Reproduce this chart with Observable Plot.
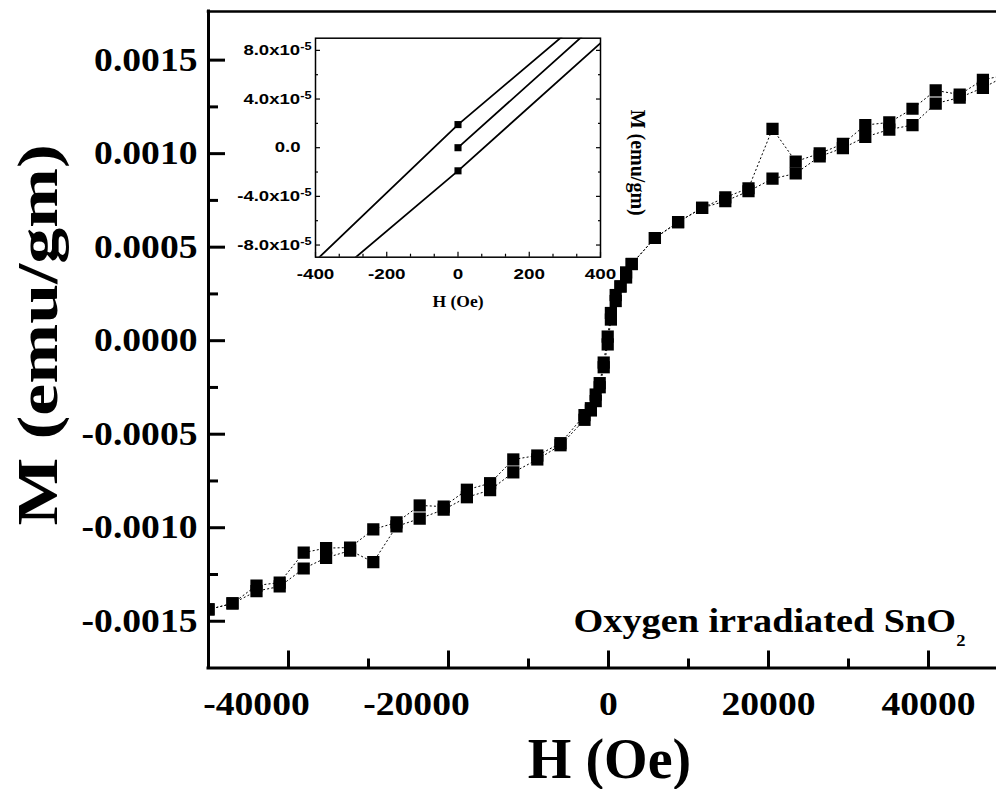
<!DOCTYPE html>
<html><head><meta charset="utf-8">
<script src="https://cdn.jsdelivr.net/npm/d3@7"></script>
<script src="https://cdn.jsdelivr.net/npm/@observablehq/plot@0.6"></script>
<style>
body{margin:0;background:#fff;}
#wrap{position:relative;width:996px;height:789px;overflow:hidden;background:#fff;}
#inset{position:absolute;left:230px;top:28px;}
</style></head><body><div id="wrap"><div id="main"></div><div id="inset"></div></div>
<script>
// ---- main loop data (H in Oe, M in emu/gm) ----
const fieldOe = [-50000, -47000, -44000, -41100, -38100, -35300, -32300, -29400, -26500, -23600, -20600, -17700, -14800, -11900, -8900, -6000, -3000, -2200, -1600, -1100, -600, -100, 300, 900, 1500, 2200, 2900, 5800, 8700, 11700, 14600, 17500, 20500, 23400, 26400, 29300, 32100, 35100, 38000, 40900, 43900, 46800, 50000];
const mDescending = [-0.001437, -0.001405, -0.001309, -0.001293, -0.001133, -0.001109, -0.001106, -0.001009, -0.000972, -0.000881, -0.000887, -0.000797, -0.000762, -0.000635, -0.000614, -0.000548, -0.000398, -0.000361, -0.000288, -0.000227, -0.000117, 0.000022, 0.000148, 0.000244, 0.00029, 0.000365, 0.00041, 0.000549, 0.000634, 0.00071, 0.000766, 0.000815, 0.001133, 0.000958, 0.001001, 0.001052, 0.001153, 0.001167, 0.00124, 0.001338, 0.001316, 0.001395, 0.001423];
const mAscending = [-0.001437, -0.001405, -0.001339, -0.001314, -0.001218, -0.001161, -0.001122, -0.001184, -0.000993, -0.000951, -0.000903, -0.000837, -0.000799, -0.000704, -0.000635, -0.000559, -0.000423, -0.000373, -0.000323, -0.000249, -0.000142, -0.00002, 0.000113, 0.000212, 0.00029, 0.000338, 0.00041, 0.000549, 0.000634, 0.00071, 0.000746, 0.000799, 0.000866, 0.000894, 0.000985, 0.00103, 0.001089, 0.001129, 0.001153, 0.001268, 0.0013, 0.001352, 0.001423];

const xDomain = [-50000, 48500];
const yDomain = [-0.00175, 0.00176];
const xMajorNegTicks = [-40000, -20000];
const xMajorPosTicks = [0, 20000, 40000];
const xMinorTicks = [-30000, -10000, 10000, 30000];
const yMajorTicks = [-0.0015, -0.001, -0.0005, 0, 0.0005, 0.001, 0.0015];
const yMinorTicks = [-0.00125, -0.00075, -0.00025, 0.00025, 0.00075, 0.00125];

// ---- inset data (low-field zoom) ----
const insetDescH = [-400, 0, 400];
const insetDescM = [-9.3e-5, 1.9e-5, 11.8e-5];
const insetVirginH = [0, 400];
const insetVirginM = [0, 10.5e-5];
const insetAscH = [-400, 0, 400];
const insetAscM = [-11.8e-5, -1.9e-5, 8.6e-5];
const insetXDomain = [-400, 400];
const insetYDomain = [-9e-5, 9e-5];
const insetXMajor = [-400, -200, 0, 200, 400];
const insetXMinor = [-333.33, -266.67, -133.33, -66.67, 66.67, 133.33, 266.67, 333.33];
const insetYMajor = [-8e-5, -4e-5, 0, 4e-5, 8e-5];
const insetYMinor = [-6e-5, -2e-5, 2e-5, 6e-5];

const rows = [];
fieldOe.forEach((h, i) => rows.push({H: h, M: mDescending[i], branch: "desc"}));
fieldOe.forEach((h, i) => rows.push({H: h, M: mAscending[i], branch: "asc"}));

const serif = "'Liberation Serif','Times New Roman',serif";
const sans = "'Liberation Sans',Arial,sans-serif";

// stretch a text element along its own writing direction, about its anchor
function stretch(el, s) {
  const tr = el.getAttribute("transform") || "";
  const xa = el.getAttribute("x");
  if (xa !== null && xa !== "" && !isNaN(+xa)) el.setAttribute("x", +xa / s);
  el.setAttribute("transform", `${tr} scale(${s},1)`);
}
const byText = (svg, s) => d3.select(svg).selectAll("text").filter(function() { return this.textContent === s; });

const main = Plot.plot({
  width: 996, height: 789,
  marginLeft: 208, marginRight: 0, marginTop: 11, marginBottom: 121.5,
  style: {background: "white", fontFamily: serif, fontSize: "33px", fontWeight: "bold", color: "black", overflow: "visible"},
  x: {domain: xDomain, label: null},
  y: {domain: yDomain, label: null},
  marks: [
    Plot.line(rows, {x: "H", y: "M", z: "branch", stroke: "black", strokeWidth: 1, strokeDasharray: "1.2,3", clip: true}),
    Plot.dot(rows, {x: "H", y: "M", symbol: "square", r: 6.9, fill: "black", stroke: null, clip: true}),
    Plot.ruleX([xDomain[0]], {strokeWidth: 3, strokeLinecap: "square"}),
    Plot.ruleY([yDomain[0]], {strokeWidth: 3, strokeLinecap: "square"}),
    Plot.ruleY([yDomain[1]], {strokeWidth: 2.5, strokeLinecap: "square"}),
    // major ticks (no labels)
    Plot.axisX(xMajorNegTicks.concat(xMajorPosTicks), {label: null, tickSize: -17, strokeWidth: 3, tickFormat: () => ""}),
    // labels: negative ones sit left of their ticks in the reference
    Plot.axisX(xMajorNegTicks, {label: null, tickSize: 0, tickPadding: 24, dx: -32, tickFormat: d => String(d)}),
    Plot.axisX(xMajorPosTicks, {label: null, tickSize: 0, tickPadding: 24, tickFormat: d => String(d)}),
    Plot.axisX(xMinorTicks, {label: null, tickSize: -9, strokeWidth: 3, tickFormat: () => ""}),
    Plot.axisY(yMajorTicks, {label: null, tickSize: -17, tickPadding: 28, strokeWidth: 3, tickFormat: d => d.toFixed(4)}),
    Plot.axisY(yMinorTicks, {label: null, tickSize: -10, strokeWidth: 3, tickFormat: () => ""}),
    Plot.text(["H (Oe)"], {frameAnchor: "bottom", text: d => d, dx: 7, dy: 110, textAnchor: "middle", lineAnchor: "bottom", fontSize: 56, fontFamily: serif, fontWeight: "bold"}),
    Plot.text(["M (emu/gm)"], {frameAnchor: "left", text: d => d, rotate: -90, dx: -152, dy: -5, textAnchor: "middle", lineAnchor: "bottom", fontSize: 58, fontFamily: serif, fontWeight: "bold"}),
    Plot.text(["Oxygen irradiated SnO"], {frameAnchor: "bottom-left", text: d => d, dx: 365, dy: -36, textAnchor: "start", lineAnchor: "bottom", fontSize: 33, fontFamily: serif, fontWeight: "bold"})
  ]
});
document.getElementById("main").appendChild(main);
d3.select(main).selectAll('g[aria-label="x-axis tick label"] text, g[aria-label="y-axis tick label"] text').each(function() { stretch(this, 1.14); });
byText(main, "M (emu/gm)").each(function() { stretch(this, 1.24); });
byText(main, "Oxygen irradiated SnO").each(function() {
  d3.select(this).append("tspan").attr("font-size", 16).attr("dy", 14).text("2");
  stretch(this, 1.16);
});

const insetRows = [];
insetDescH.forEach((h, i) => insetRows.push({H: h, M: insetDescM[i], branch: "desc"}));
insetVirginH.forEach((h, i) => insetRows.push({H: h, M: insetVirginM[i], branch: "virgin"}));
insetAscH.forEach((h, i) => insetRows.push({H: h, M: insetAscM[i], branch: "asc"}));
const insetZero = insetRows.filter(d => d.H === 0);

const inset = Plot.plot({
  width: 430, height: 292,
  marginLeft: 85, marginRight: 60, marginTop: 9.7, marginBottom: 63.3,
  style: {background: "transparent", fontFamily: sans, fontSize: "14.5px", fontWeight: "bold", color: "black", overflow: "visible"},
  x: {domain: insetXDomain, label: null},
  y: {domain: insetYDomain, label: null},
  marks: [
    Plot.frame({fill: "white", stroke: null}),
    Plot.line(insetRows, {x: "H", y: "M", z: "branch", stroke: "black", strokeWidth: 1.8, clip: true}),
    Plot.dot(insetZero, {x: "H", y: "M", symbol: "square", r: 4, fill: "black", stroke: null}),
    Plot.frame({stroke: "black", strokeWidth: 1.5}),
    Plot.axisX(insetXMajor, {label: null, tickSize: -5, tickPadding: 16, strokeWidth: 1.2, tickFormat: d => String(d)}),
    Plot.axisX(insetXMinor, {label: null, tickSize: -3, strokeWidth: 1.2, tickFormat: () => ""}),
    Plot.axisY(insetYMajor, {label: null, tickSize: -5, tickPadding: 20, strokeWidth: 1.2, tickFormat: d => d === 0 ? "0.0" : (d / 1e-5).toFixed(1) + "x10"}),
    Plot.axisY(insetYMinor, {label: null, tickSize: -3, strokeWidth: 1.2, tickFormat: () => ""}),
    Plot.axisY(insetYMajor, {label: null, anchor: "right", tickSize: -5, strokeWidth: 1.2, tickFormat: () => ""}),
    Plot.axisY(insetYMinor, {label: null, anchor: "right", tickSize: -3, strokeWidth: 1.2, tickFormat: () => ""}),
    Plot.text(["H (Oe)"], {frameAnchor: "bottom", text: d => d, dy: 49.5, textAnchor: "middle", lineAnchor: "bottom", fontSize: 17.5, fontFamily: serif, fontWeight: "bold"}),
    Plot.text(["M (emu/gm)"], {frameAnchor: "right", text: d => d, rotate: 90, dx: 30, dy: 15, textAnchor: "middle", lineAnchor: "bottom", fontSize: 20, fontFamily: serif, fontWeight: "bold"})
  ]
});
document.getElementById("inset").appendChild(inset);
d3.select(inset).selectAll('g[aria-label="x-axis tick label"] text').each(function() { stretch(this, 1.3); });
d3.select(inset).selectAll('g[aria-label="y-axis tick label"] text').each(function() {
  const t = d3.select(this);
  let shift = 0;
  if (t.text().endsWith("x10")) {
    t.append("tspan").attr("font-size", 10).attr("dy", "-0.5em").text("-5");
    shift = 11;
  }
  stretch(this, 1.28);
  if (shift) t.attr("transform", `translate(${shift},0) ` + t.attr("transform"));
});
</script>
</body></html>
